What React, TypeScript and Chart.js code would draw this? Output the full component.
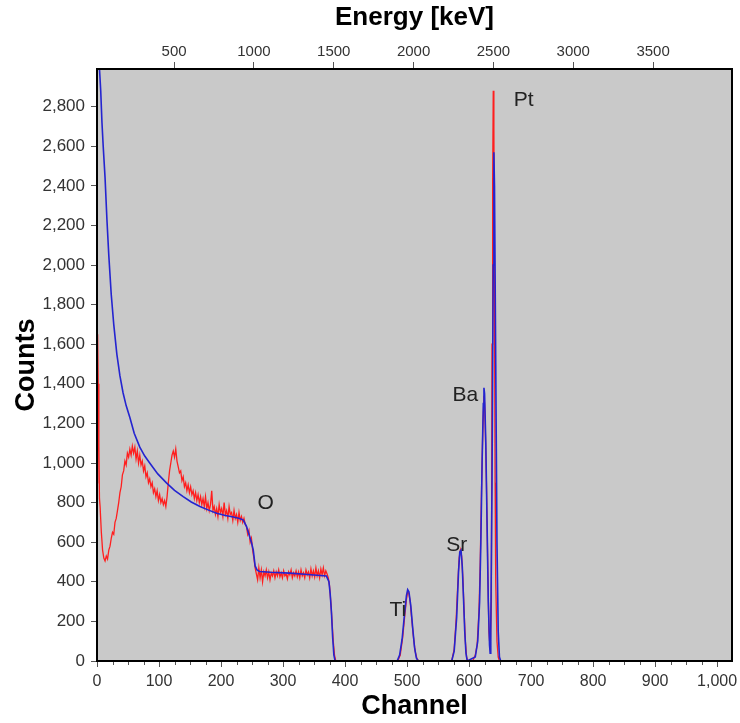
import React, { useEffect, useRef } from 'react';
import { Chart, registerables } from 'chart.js';

Chart.register(...registerables);

// Axis tick values
const channelTicks = [0, 100, 200, 300, 400, 500, 600, 700, 800, 900, 1000];
const energyTicks = [500, 1000, 1500, 2000, 2500, 3000, 3500];
const countTicks = [0, 200, 400, 600, 800, 1000, 1200, 1400, 1600, 1800, 2000, 2200, 2400, 2600, 2800];

// Measured RBS spectrum (red)
const measuredChannel = [
  0, 1, 2, 3, 4, 5, 7, 9, 11, 13, 15, 17, 19, 21, 23, 25, 27, 29, 31, 33, 35, 37, 39,
  41, 43, 45, 47, 49, 51, 53, 55, 57, 59, 61, 63, 65, 67, 69, 71, 73, 75, 77, 79,
  81, 83, 85, 87, 89, 91, 93, 95, 97, 99, 101, 103, 105, 107, 109, 111, 113, 115, 117, 119,
  121, 123, 125, 127, 129, 131, 133, 135, 137, 139, 141, 143, 145, 147, 149, 151, 153, 155, 157, 159,
  161, 163, 165, 167, 169, 171, 173, 175, 177, 179, 181, 183, 185, 187, 189, 191, 193, 195, 197, 199,
  201, 203, 205, 207, 209, 211, 213, 215, 217, 219, 221, 223, 225, 227, 229, 231, 233, 235, 237, 239,
  241, 243, 245, 247, 249, 251, 253, 255, 257, 259, 261, 263, 265, 267, 269, 271, 273, 275, 277, 279,
  281, 283, 285, 287, 289, 291, 293, 295, 297, 299, 301, 303, 305, 307, 309, 311, 313, 315, 317, 319,
  321, 323, 325, 327, 329, 331, 333, 335, 337, 339, 341, 343, 345, 347, 349, 351, 353, 355, 357, 359,
  361, 363, 365, 367, 369, 371, 373, 375, 377, 379, 381, 383, 385,
  485, 489, 493, 496, 499, 501, 503, 505, 507, 510, 513, 516, 519,
  572, 576, 579, 582, 584, 586, 588, 590, 592, 594, 596, 598,
  606, 610, 613, 616, 618, 620, 622, 624, 625, 626, 628, 630, 632, 634, 636, 637, 638, 639, 640, 641, 642, 643, 645, 647, 649,
  1024,
];
const measuredCounts = [
  900, 1650, 1400, 1100, 820, 780, 650, 560, 520, 505, 530, 515, 560, 580, 620, 650, 640, 700, 720, 760, 800, 850, 880,
  940, 960, 1010, 990, 1050, 1030, 1070, 1040, 1085, 1050, 1080, 1020, 1060, 1000, 1040, 990, 1010, 960, 985, 930,
  950, 900, 920, 880, 900, 850, 870, 830, 860, 810, 840, 800, 820, 790, 810, 780, 830, 900, 960, 1000,
  1040, 1060, 1030, 1070, 1010, 980, 950, 960, 910, 930, 880, 900, 860, 890, 850, 880, 840, 860, 820, 850,
  810, 840, 800, 830, 790, 820, 780, 830, 770, 800, 760, 790, 860, 760, 780, 740, 770, 730, 790, 750,
  770, 730, 800, 740, 760, 720, 780, 740, 750, 710, 760, 720, 740, 700, 750, 710, 730, 700, 720, 690,
  680, 640, 660, 600, 620, 560, 520, 470, 440, 410, 470, 420, 460, 400, 450, 430, 460, 420, 450, 410,
  445, 430, 455, 420, 450, 430, 460, 425, 445, 420, 455, 430, 440, 415, 450, 435, 460, 420, 445, 430,
  455, 425, 450, 420, 460, 430, 445, 420, 460, 435, 450, 420, 465, 430, 455, 425, 470, 430, 455, 420,
  465, 435, 470, 430, 455, 440, 420, 380, 300, 200, 100, 30, 0,
  0, 30, 120, 220, 310, 350, 340, 300, 230, 130, 50, 10, 0,
  0, 60, 200, 400, 520, 560, 530, 420, 250, 100, 20, 0,
  0, 30, 80, 250, 500, 850, 1150, 1340, 1300, 1200, 900, 500, 150, 60, 300, 1600, 2400, 2880, 2700, 1800, 900, 400, 100, 20, 0,
  0,
];

// Simulated spectrum (blue)
const simulatedChannel = [
  1, 4, 6, 8, 10, 13, 16, 19, 23, 27, 32, 37, 42, 47, 53, 60, 69, 77, 85, 98,
  112, 125, 139, 152, 166, 180, 193, 207, 220, 230, 236, 241, 245, 249, 252, 255, 258, 262, 280, 311,
  340, 370, 374, 376, 378, 380, 382, 384,
  484, 488, 492, 496, 499, 501, 503, 506, 509, 512, 515, 518,
  572, 576, 580, 583, 585, 587, 589, 591, 593, 595, 597,
  610, 614, 617, 619, 621, 623, 624, 625, 627, 629, 631, 633, 634, 635, 637, 639, 640, 641, 643, 645, 647, 649, 651,
  1024,
];
const simulatedCounts = [
  3100, 2990, 2880, 2720, 2600, 2440, 2230, 2050, 1850, 1700, 1550, 1440, 1355, 1290, 1230, 1150, 1080, 1035, 1000, 945,
  900, 862, 830, 803, 780, 762, 746, 735, 727, 720, 712, 680, 640, 600, 560, 480, 460, 452, 448, 444,
  437, 429, 400, 340, 250, 120, 30, 0,
  0, 30, 110, 240, 330, 360, 350, 280, 170, 70, 15, 0,
  0, 50, 220, 450, 550, 560, 480, 320, 150, 40, 0,
  20, 100, 300, 600, 1000, 1300, 1380, 1350, 1100, 700, 300, 80, 40, 150, 900, 2000, 2570, 2400, 1500, 600, 150, 20, 0,
  0,
];

// Element labels placed at (channel, counts)
const elementNames = ['Pt', 'Ba', 'Sr', 'Ti', 'O'];
const elementChannel = [688, 594, 580, 485, 272];
const elementCounts = [2830, 1343, 586, 258, 798];

const FONT = '"Liberation Sans", Arial, sans-serif';

function toPoints(xs: number[], ys: number[]) {
  return xs.map((x, i) => ({ x, y: ys[i] }));
}

// Fixed axis box sizes so the plot area spans a set region of the canvas
function fixSize(size: { width?: number; height?: number }) {
  return (s: any) => {
    if (size.width !== undefined) s.width = size.width;
    if (size.height !== undefined) s.height = size.height;
    s.paddingLeft = 0;
    s.paddingRight = 0;
    s.paddingTop = 0;
    s.paddingBottom = 0;
  };
}

const framePlugin = {
  id: 'framePlugin',
  beforeDraw(chart: any) {
    const { ctx, chartArea: a } = chart;
    ctx.save();
    ctx.fillStyle = '#ffffff';
    ctx.fillRect(0, 0, chart.width, chart.height);
    ctx.fillStyle = '#c9c9c9';
    ctx.fillRect(a.left, a.top, a.right - a.left, a.bottom - a.top);
    ctx.restore();
  },
  afterDatasetsDraw(chart: any) {
    const { ctx, chartArea: a, scales } = chart;
    ctx.save();
    // element labels
    ctx.fillStyle = '#222';
    ctx.font = '21px ' + FONT;
    ctx.textAlign = 'center';
    ctx.textBaseline = 'middle';
    elementNames.forEach((name, i) => {
      ctx.fillText(name, scales.x.getPixelForValue(elementChannel[i]), scales.y.getPixelForValue(elementCounts[i]));
    });
    // plot frame
    ctx.strokeStyle = '#000';
    ctx.lineWidth = 2;
    ctx.strokeRect(a.left, a.top, a.right - a.left, a.bottom - a.top);
    // minor channel ticks
    ctx.strokeStyle = '#555';
    ctx.lineWidth = 1;
    for (let c = 25; c < 1024; c += 25) {
      if (c % 100 === 0) continue;
      const px = Math.round(scales.x.getPixelForValue(c)) + 0.5;
      ctx.beginPath();
      ctx.moveTo(px, a.bottom + 1);
      ctx.lineTo(px, a.bottom + 4);
      ctx.stroke();
    }
    ctx.restore();
  },
  afterDraw(chart: any) {
    const { ctx, chartArea: a } = chart;
    const cx = (a.left + a.right) / 2;
    ctx.save();
    ctx.fillStyle = '#000';
    ctx.textAlign = 'center';
    ctx.textBaseline = 'middle';
    ctx.font = 'bold 26px ' + FONT;
    ctx.fillText('Energy [keV]', cx, 18);
    ctx.font = 'bold 27px ' + FONT;
    ctx.fillText('Channel', cx, 707);
    ctx.translate(27, 365);
    ctx.rotate(-Math.PI / 2);
    ctx.fillText('Counts', 0, 0);
    ctx.restore();
  },
};

export default function App() {
  const canvasRef = useRef<HTMLCanvasElement | null>(null);

  useEffect(() => {
    if (!canvasRef.current) return;
    const chart = new Chart(canvasRef.current, {
      type: 'line',
      data: {
        datasets: [
          {
            label: 'Simulated',
            data: toPoints(simulatedChannel, simulatedCounts),
            borderColor: '#2424d0',
            borderWidth: 1.6,
            pointRadius: 0,
            tension: 0,
            xAxisID: 'x',
            yAxisID: 'y',
          },
          {
            label: 'Measured',
            data: toPoints(measuredChannel, measuredCounts),
            borderColor: '#ff1e1e',
            borderWidth: 1.3,
            pointRadius: 0,
            tension: 0,
            xAxisID: 'x',
            yAxisID: 'y',
          },
        ],
      },
      options: {
        animation: false,
        responsive: false,
        events: [],
        layout: { padding: { left: 0, right: 8, top: 0, bottom: 0 } },
        plugins: { legend: { display: false }, tooltip: { enabled: false } },
        scales: {
          x: {
            type: 'linear',
            position: 'bottom',
            min: 0,
            max: 1024,
            afterBuildTicks: (s: any) => { s.ticks = channelTicks.map((v) => ({ value: v })); },
            afterFit: fixSize({ height: 62 }),
            grid: { drawOnChartArea: false, tickLength: 6, color: '#555' },
            border: { display: false },
            ticks: {
              font: { family: FONT, size: 16 },
              color: '#333',
              padding: 5,
              maxRotation: 0,
              autoSkip: false,
              callback: (v: any) => Number(v).toLocaleString('en-US'),
            },
          },
          x2: {
            type: 'linear',
            position: 'top',
            min: 17.5,
            max: 3994,
            afterBuildTicks: (s: any) => { s.ticks = energyTicks.map((v) => ({ value: v })); },
            afterFit: fixSize({ height: 69 }),
            grid: { drawOnChartArea: false, tickLength: 7, color: '#555' },
            border: { display: false },
            ticks: {
              font: { family: FONT, size: 15 },
              color: '#333',
              padding: 1,
              maxRotation: 0,
              autoSkip: false,
              callback: (v: any) => String(v),
            },
          },
          y: {
            type: 'linear',
            position: 'left',
            min: 0,
            max: 2990,
            afterBuildTicks: (s: any) => { s.ticks = countTicks.map((v) => ({ value: v })); },
            afterFit: fixSize({ width: 97 }),
            grid: { drawOnChartArea: false, tickLength: 6, color: '#555' },
            border: { display: false },
            ticks: {
              font: { family: FONT, size: 17 },
              color: '#333',
              padding: 6,
              autoSkip: false,
              callback: (v: any) => Number(v).toLocaleString('en-US'),
            },
          },
        },
      },
      plugins: [framePlugin],
    } as any);
    return () => chart.destroy();
  }, []);

  return (
    <div style={{ position: 'absolute', left: 0, top: 0, width: 740, height: 723 }}>
      <canvas ref={canvasRef} width={740} height={723} style={{ display: 'block' }} />
    </div>
  );
}
